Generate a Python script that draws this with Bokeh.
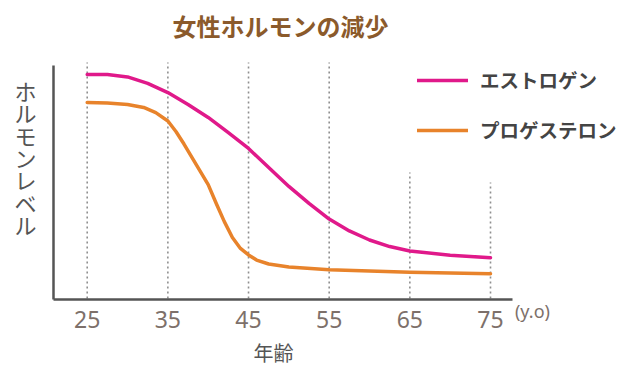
from bokeh.plotting import figure
from bokeh.models import FixedTicker, Label, Legend, LegendItem
from bokeh.embed import file_html
from bokeh.resources import INLINE

# ---- data ----
title_text = "女性ホルモンの減少"
ylabel_text = "ホルモンレベル"
xlabel_text = "年齢"
unit_text = "(y.o)"
series_names = ["エストロゲン", "プロゲステロン"]

tick_ages = [25, 35, 45, 55, 65, 75]
grid_tops = [101.3, 101.3, 101.3, 101.3, 54.1, 49.8]

estrogen_age = [25, 27.5, 30, 32.5, 35, 37.5, 40, 42.5, 45, 47.5, 50, 52.5, 55,
                57.5, 60, 62.5, 65, 70, 75]
estrogen_lvl = [96.1, 96.1, 95.1, 92.3, 88.4, 83.3, 77.7, 71.2, 64.4, 56.2, 48.1,
                40.8, 34.1, 29.0, 25.1, 22.3, 20.4, 18.6, 17.5]

progest_age = [25, 27.5, 30, 32, 33.5, 35, 36, 37, 38, 39, 40, 41, 42, 43, 44, 45,
               46, 47.5, 50, 55, 60, 65, 70, 75]
progest_lvl = [84.1, 83.9, 83.3, 82.0, 79.8, 76.2, 71.7, 66.3, 60.5, 54.7, 48.9,
               40.8, 33.0, 26.2, 21.5, 18.7, 16.5, 14.8, 13.5, 12.3, 11.8, 11.3,
               10.9, 10.6]

# axis extents (data units)
age_axis_start, age_axis_end = 20.82, 77.73
lvl_axis_start, lvl_axis_end = -0.4, 100.0

CJK = "Noto Sans CJK JP"
MAGENTA = "#e0198a"
ORANGE = "#e8832b"
TICK_COLOR = "#7d706a"
AXIS_COLOR = "#555555"

p = figure(width=628, height=366, x_range=(14.251, 92.108), y_range=(-29.18, 127.90),
           output_backend="svg", toolbar_location=None,
           min_border_left=0, min_border_right=0, min_border_top=0,
           min_border_bottom=0)
p.outline_line_color = None
p.xgrid.visible = False
p.ygrid.visible = False
p.background_fill_color = "white"
p.border_fill_color = "white"

# dotted vertical guides
p.segment(x0=tick_ages, y0=[0] * len(tick_ages), x1=tick_ages, y1=grid_tops,
          line_color="#8f8f8f", line_width=1.6, line_dash="2 3")

r1 = p.line(estrogen_age, estrogen_lvl, line_color=MAGENTA, line_width=3.5,
            line_join="round", line_cap="round")
r2 = p.line(progest_age, progest_lvl, line_color=ORANGE, line_width=3.5,
            line_join="round", line_cap="round")

# axes (drawn at fixed data locations)
xa = p.xaxis[0]
xa.fixed_location = lvl_axis_start
xa.bounds = (age_axis_start, age_axis_end)
xa.ticker = FixedTicker(ticks=tick_ages)
xa.major_tick_line_color = None
xa.minor_tick_line_color = None
xa.axis_line_color = AXIS_COLOR
xa.axis_line_width = 2.5
xa.major_label_text_font = "Noto Sans"
xa.major_label_text_font_size = "23px"
xa.major_label_text_color = TICK_COLOR
xa.major_label_standoff = 6

ya = p.yaxis[0]
ya.fixed_location = age_axis_start
ya.bounds = (lvl_axis_start, lvl_axis_end)
ya.ticker = FixedTicker(ticks=[])
ya.major_tick_line_color = None
ya.minor_tick_line_color = None
ya.major_label_text_font_size = "0px"
ya.axis_line_color = AXIS_COLOR
ya.axis_line_width = 2.5

# title
p.add_layout(Label(x=48.97, y=117.2, text=title_text, text_align="center",
                   text_baseline="middle", text_font=CJK, text_font_style="bold",
                   text_font_size="24px", text_color="#8b5a2b"))

# vertical y label
p.add_layout(Label(x=17.35, y=60.7, text="\n".join(ylabel_text), text_align="center",
                   text_baseline="middle", text_font=CJK, text_font_size="22px",
                   text_line_height=0.70, text_color=AXIS_COLOR))

# x label
p.add_layout(Label(x=48.1, y=-23.2, text=xlabel_text, text_align="center",
                   text_baseline="middle", text_font=CJK, text_font_size="20px",
                   text_color=AXIS_COLOR))

# unit label
p.add_layout(Label(x=80.2, y=-5.15, text=unit_text, text_align="center",
                   text_baseline="middle", text_font="Noto Sans", text_font_size="18px",
                   text_color=TICK_COLOR))

legend = Legend(items=[LegendItem(label=series_names[0], renderers=[r1]),
                       LegendItem(label=series_names[1], renderers=[r2])],
                location=(417, 222), orientation="vertical",
                border_line_color=None, background_fill_alpha=0,
                padding=0, margin=0, spacing=21, glyph_width=51, glyph_height=24,
                label_height=24, label_standoff=12,
                label_text_font=CJK, label_text_font_style="bold",
                label_text_font_size="19.5px", label_text_color="#444444")
p.add_layout(legend)

open("out.html", "w").write(file_html(p, INLINE))
